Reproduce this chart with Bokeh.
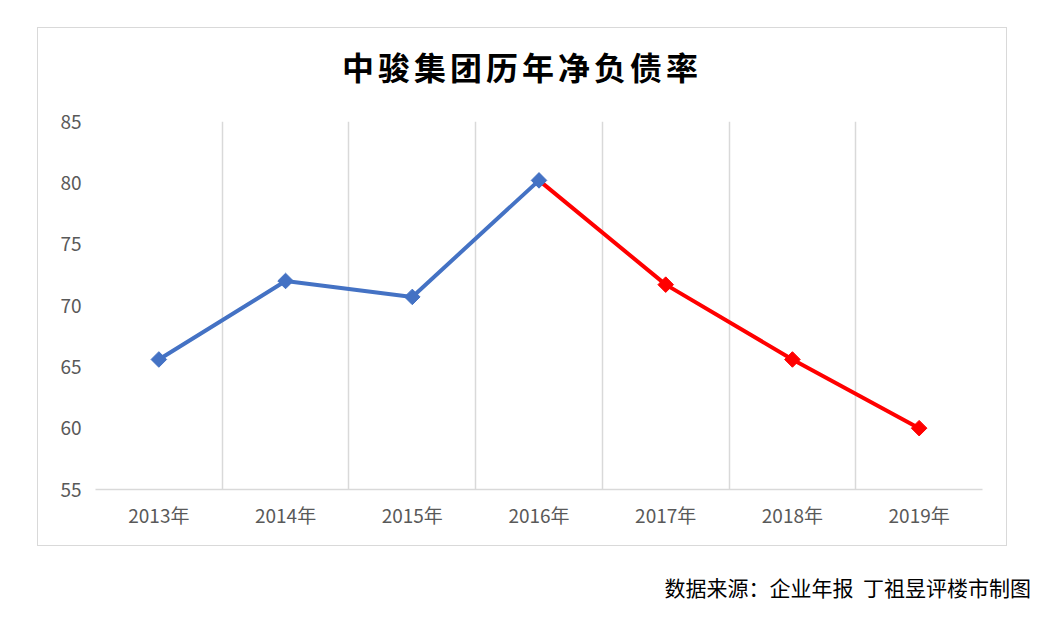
from bokeh.plotting import figure
from bokeh.models import FixedTicker, Div, ColumnDataSource
from bokeh.layouts import column
from bokeh.embed import file_html
from bokeh.resources import INLINE
import math

years = ["2013年", "2014年", "2015年", "2016年", "2017年", "2018年", "2019年"]
net_debt = [65.6, 72.0, 70.7, 80.2, 71.7, 65.6, 60.0]
split = 3  # 2016: blue up to here, red after

title_text = "中骏集团历年净负债率"
footer_text = "数据来源：企业年报&nbsp;&nbsp;丁祖昱评楼市制图"
font = "Noto Sans CJK SC"

xs = list(range(len(years)))
blue = ColumnDataSource({'x': xs[:split + 1], 'y': net_debt[:split + 1]})
red = ColumnDataSource({'x': xs[split:], 'y': net_debt[split:]})
red_pts = ColumnDataSource({'x': xs[split + 1:], 'y': net_debt[split + 1:]})

p = figure(width=968, height=440, x_range=(-0.5, len(years) - 0.5), y_range=(55, 85),
           output_backend="svg", toolbar_location=None, margin=0,
           min_border_left=57, min_border_right=24, min_border_top=16, min_border_bottom=56)
p.outline_line_color = None

# x axis: labels at the centres, grid lines on the category boundaries
p.xaxis.ticker = FixedTicker(ticks=xs)
p.xaxis.major_label_overrides = {i: y for i, y in enumerate(years)}
p.xaxis.major_label_text_font = font
p.xaxis.major_label_text_font_size = "19px"
p.xaxis.major_label_text_color = "#595959"
p.xaxis.major_label_standoff = 5
p.xaxis.major_tick_line_color = None
p.xaxis.minor_tick_line_color = None
p.xaxis.axis_line_color = "#d9d9d9"
p.xaxis.axis_line_width = 1.5
p.xgrid.ticker = FixedTicker(ticks=[i - 0.5 for i in range(len(years) + 1)])
p.xgrid.grid_line_color = "#d9d9d9"
p.xgrid.grid_line_width = 1.5

p.yaxis.ticker = FixedTicker(ticks=[55, 60, 65, 70, 75, 80, 85])
p.yaxis.major_label_text_font = font
p.yaxis.major_label_text_font_size = "19px"
p.yaxis.major_label_text_color = "#595959"
p.yaxis.major_label_standoff = 8
p.yaxis.major_tick_line_color = None
p.yaxis.minor_tick_line_color = None
p.yaxis.axis_line_color = None
p.ygrid.grid_line_color = None

p.line('x', 'y', source=red, line_color="#ff0000", line_width=4)
p.line('x', 'y', source=blue, line_color="#4472c4", line_width=4)
p.scatter('x', 'y', source=red_pts, marker="square", size=11, angle=math.pi / 4,
          fill_color="#ff0000", line_color="#ff0000")
p.scatter('x', 'y', source=blue, marker="square", size=11, angle=math.pi / 4,
          fill_color="#4472c4", line_color="#4472c4")

title = Div(text=title_text, width=968, height=77, margin=0,
            styles={"text-align": "center", "font-family": font, "font-size": "32px",
                    "font-weight": "bold", "letter-spacing": "4px", "line-height": "77px",
                    "color": "black", "width": "968px"})

box = column(title, p, margin=(27, 0, 0, 37),
             styles={"border": "1.5px solid #d9d9d9"})

footer = Div(text=footer_text, width=1023, height=30, margin=(26, 0, 0, 8),
             styles={"text-align": "right", "font-family": font, "font-size": "21px",
                     "color": "black", "width": "1023px"})

layout = column(box, footer)
open("out.html", "w").write(file_html(layout, INLINE))
